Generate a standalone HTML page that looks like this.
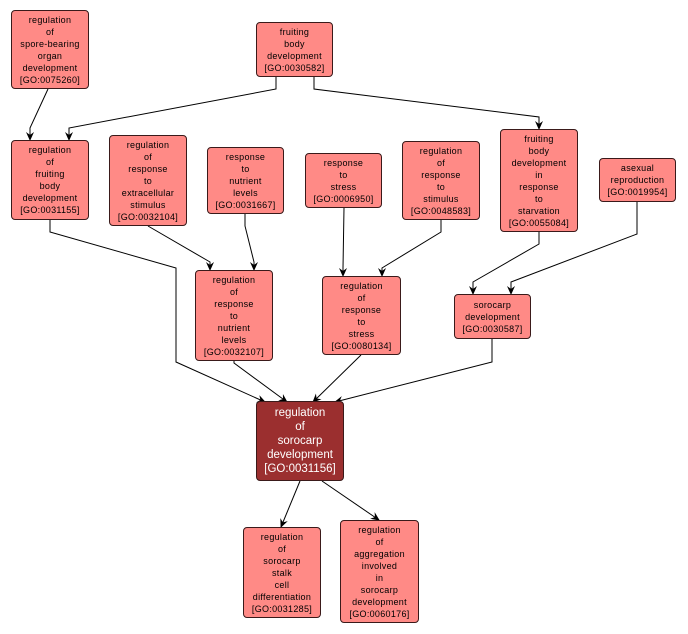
<!DOCTYPE html>
<html><head><style>
body{margin:0;background:#fff;width:688px;height:634px;overflow:hidden;position:relative;font-family:"Liberation Sans",sans-serif}
.n{position:absolute;box-sizing:border-box;background:#ff8a86;border:1px solid #3a1a1a;border-radius:4px;display:flex;align-items:center;justify-content:center;text-align:center;font-size:9px;line-height:12px;color:#000;letter-spacing:0.3px}
.m{background:#9b2f2f;color:#fff;font-size:11.5px;line-height:14px;letter-spacing:0}
svg{position:absolute;left:0;top:0}
</style></head><body>
<svg width="688" height="634">
<defs><marker id="a" markerWidth="10" markerHeight="10" refX="8" refY="5" orient="auto" markerUnits="userSpaceOnUse"><path d="M0,1 L9,5 L0,9 L3,5 Z" fill="#000"/></marker></defs>
<g fill="none" stroke="#000" stroke-width="1" marker-end="url(#a)">
<polyline points="48,89 30,128 30,140"/>
<polyline points="276,77 276,89 69,128 69,140"/>
<polyline points="314,77 314,89 539,117 539,129"/>
<polyline points="50,220 50,232 176,268 176,362 265,402"/>
<polyline points="148,226 210,262 210,270"/>
<polyline points="245,214 245,226 254,262 254,270"/>
<polyline points="344,208 343,268 343,276"/>
<polyline points="441,220 441,232 382,268 382,276"/>
<polyline points="539,232 539,244 473,282 473,294"/>
<polyline points="637,202 637,234 511,282 511,294"/>
<polyline points="234,361 234,363 287,402"/>
<polyline points="361,355 313,402"/>
<polyline points="492,339 492,362 335,402"/>
<polyline points="300,481 281,527"/>
<polyline points="322,481 379,520"/>
</g></svg>
<div class="n" style="left:11px;top:10px;width:78px;height:79px">regulation<br>of<br>spore-bearing<br>organ<br>development<br>[GO:0075260]</div>
<div class="n" style="left:256px;top:22px;width:77px;height:55px">fruiting<br>body<br>development<br>[GO:0030582]</div>
<div class="n" style="left:11px;top:140px;width:78px;height:80px">regulation<br>of<br>fruiting<br>body<br>development<br>[GO:0031155]</div>
<div class="n" style="left:109px;top:135px;width:78px;height:91px">regulation<br>of<br>response<br>to<br>extracellular<br>stimulus<br>[GO:0032104]</div>
<div class="n" style="left:207px;top:147px;width:77px;height:67px">response<br>to<br>nutrient<br>levels<br>[GO:0031667]</div>
<div class="n" style="left:305px;top:153px;width:77px;height:55px">response<br>to<br>stress<br>[GO:0006950]</div>
<div class="n" style="left:402px;top:141px;width:78px;height:79px">regulation<br>of<br>response<br>to<br>stimulus<br>[GO:0048583]</div>
<div class="n" style="left:500px;top:129px;width:78px;height:103px">fruiting<br>body<br>development<br>in<br>response<br>to<br>starvation<br>[GO:0055084]</div>
<div class="n" style="left:599px;top:158px;width:77px;height:44px">asexual<br>reproduction<br>[GO:0019954]</div>
<div class="n" style="left:195px;top:270px;width:78px;height:91px">regulation<br>of<br>response<br>to<br>nutrient<br>levels<br>[GO:0032107]</div>
<div class="n" style="left:322px;top:276px;width:79px;height:79px">regulation<br>of<br>response<br>to<br>stress<br>[GO:0080134]</div>
<div class="n" style="left:454px;top:294px;width:77px;height:45px">sorocarp<br>development<br>[GO:0030587]</div>
<div class="n m" style="left:256px;top:401px;width:88px;height:80px">regulation<br>of<br>sorocarp<br>development<br>[GO:0031156]</div>
<div class="n" style="left:243px;top:527px;width:78px;height:91px">regulation<br>of<br>sorocarp<br>stalk<br>cell<br>differentiation<br>[GO:0031285]</div>
<div class="n" style="left:340px;top:520px;width:79px;height:103px">regulation<br>of<br>aggregation<br>involved<br>in<br>sorocarp<br>development<br>[GO:0060176]</div>
</body></html>
